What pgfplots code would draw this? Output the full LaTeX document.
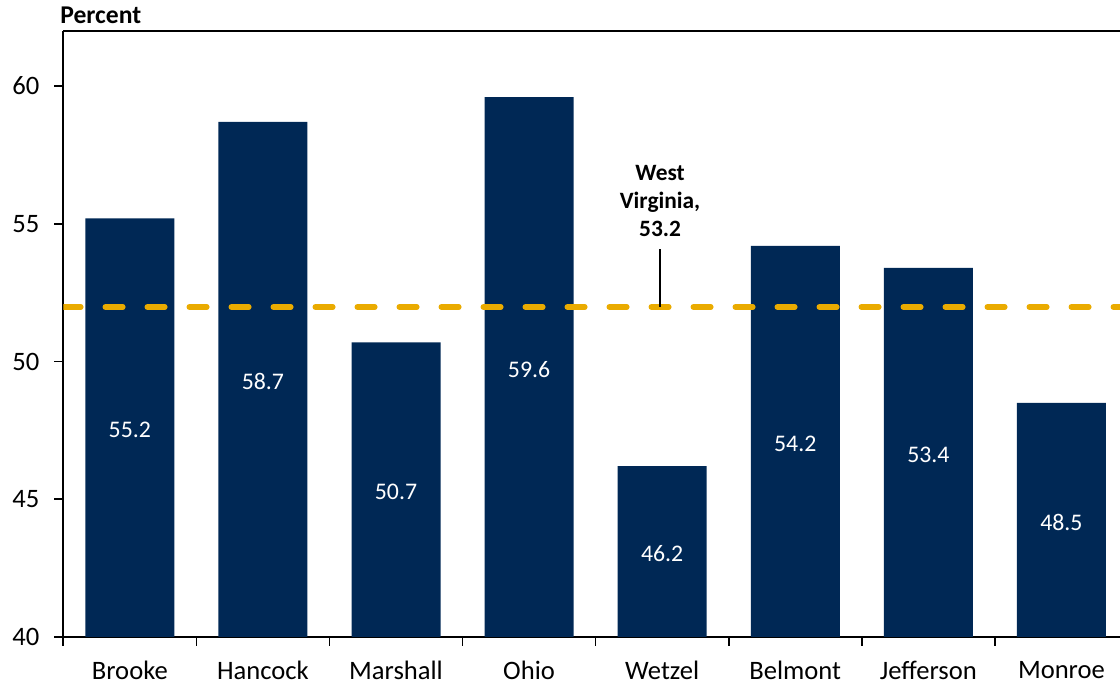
\documentclass[border=0pt]{standalone}
\usepackage{pgfplots}
\pgfplotsset{compat=1.18}
\usepackage{fontspec}
\setmainfont{Carlito}
\definecolor{navy}{RGB}{0,40,85}
\definecolor{gold}{RGB}{234,171,0}
\begin{document}
\begin{tikzpicture}
\path[use as bounding box] (-31.65pt,-25.5pt) rectangle (528.35pt,318.5pt);
\begin{axis}[
  name=ax,
  at={(0pt,0pt)}, anchor=south west,
  scale only axis, width=528.35pt, height=303pt,
  xmin=-0.5, xmax=7.44, ymin=40, ymax=62,
  axis x line*=box, axis y line*=left,
  axis line style={line width=1pt, black},
  tick pos=left, tick align=outside,
  ytick={40,45,50,55,60},
  xtick={0,...,7},
  xticklabels={Brooke,Hancock,Marshall,Ohio,Wetzel,Belmont,Jefferson,Monroe},
  minor xtick={-0.5,0.5,...,6.5},
  major tick length=4.5pt, minor tick length=4.5pt,
  major x tick style={draw=none},
  every tick/.style={black, line width=0.8pt},
  tick label style={font=\fontsize{13.3}{16}\selectfont},
  yticklabel style={xshift=-4pt},
  xticklabel style={yshift=-4pt},
  /pgf/number format/assume math mode=true,
  ybar, bar width=44.5pt,
  clip=true,
]
\addplot[fill=navy, draw=none,
  nodes near coords={\pgfmathprintnumber[fixed,precision=1,fixed zerofill]{\pgfplotspointmeta}},
  visualization depends on=y \as \rawy,
  every node near coord/.append style={white, anchor=center, font=\fontsize{11.9}{14}\selectfont, yshift={-(\rawy-40)*6.886pt-1.2pt}},
] coordinates {
  (0,55.2) (1,58.7) (2,50.7) (3,59.6) (4,46.2) (5,54.2) (6,53.4) (7,48.5)
};
\addplot[sharp plot, gold, line width=2.75pt, line cap=round, dash pattern=on 8.75pt off 12.25pt, forget plot, no markers]
  coordinates {(-0.5,51.98) (7.44,51.98)};
\draw[black, line width=1pt] (axis cs:3.984,51.98) -- (axis cs:3.984,54.09);
\node[anchor=south, inner sep=0pt, align=center, font=\bfseries\fontsize{11.7}{14}\selectfont]
  at (axis cs:3.984,54.53) {West\\Virginia,\\53.2};
\end{axis}
\node[anchor=base west, inner sep=0pt, font=\bfseries\fontsize{12.8}{15}\selectfont]
  at ([xshift=-1.65pt,yshift=3.5pt]ax.north west) {Percent};
\end{tikzpicture}
\end{document}
